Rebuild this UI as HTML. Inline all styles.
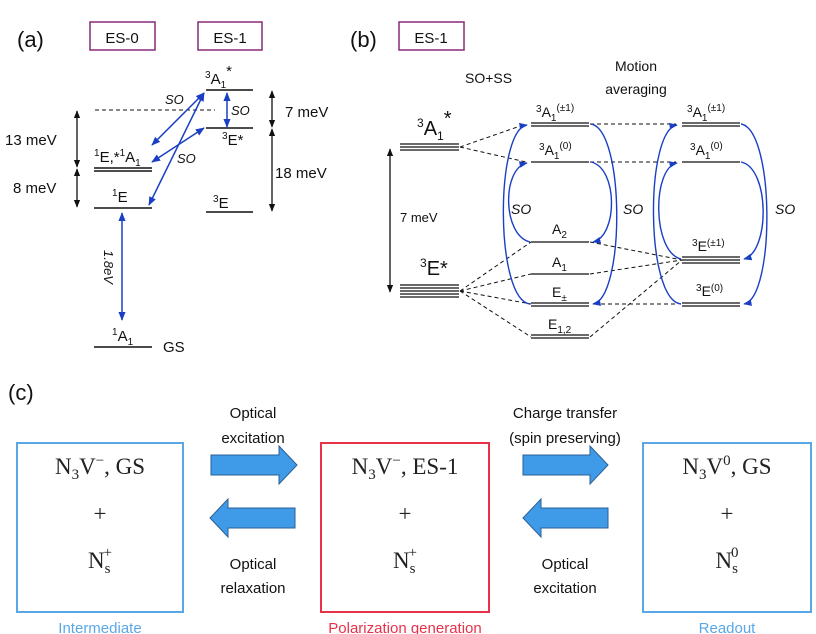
<!DOCTYPE html>
<html><head><meta charset="utf-8"><style>
html,body{margin:0;padding:0;background:#fff}
svg{display:block}
.s{font-family:"Liberation Sans",sans-serif;fill:#111}
.r{font-family:"Liberation Serif",serif;fill:#222}
</style></head><body>
<svg width="816" height="634" viewBox="0 0 816 634" xmlns="http://www.w3.org/2000/svg">
<defs>
<marker id="ka" viewBox="0 0 10 10" refX="9" refY="5" markerWidth="6" markerHeight="6" orient="auto-start-reverse"><path d="M0,1 L10,5 L0,9 z" fill="#111"/></marker>
<marker id="ba" viewBox="0 0 10 10" refX="9" refY="5" markerWidth="6" markerHeight="6" orient="auto-start-reverse"><path d="M0,1 L10,5 L0,9 z" fill="#1a3fc4"/></marker>
</defs>

<!-- Panel (a) -->
<text x="17" y="47" class="s" font-size="22">(a)</text>
<rect x="90" y="22" width="65" height="28" fill="none" stroke="#8a2a7a" stroke-width="1.5"/>
<text x="122" y="43" class="s" font-size="15" text-anchor="middle">ES-0</text>
<rect x="198" y="22" width="64" height="28" fill="none" stroke="#8a2a7a" stroke-width="1.5"/>
<text x="230" y="43" class="s" font-size="15" text-anchor="middle">ES-1</text>

<g stroke="#111" stroke-width="1.5">
<line x1="206" y1="90" x2="253" y2="90"/>
<line x1="206" y1="128" x2="253" y2="128"/>
<line x1="206" y1="212" x2="253" y2="212"/>
<line x1="94" y1="168" x2="152" y2="168"/>
<line x1="94" y1="171" x2="152" y2="171"/>
<line x1="94" y1="208" x2="152" y2="208"/>
<line x1="94" y1="347" x2="152" y2="347"/>
</g>
<line x1="95" y1="110" x2="215" y2="110" stroke="#111" stroke-width="1" stroke-dasharray="4,3"/>
<g stroke="#111" stroke-width="1.3" fill="none">
<line x1="77" y1="111" x2="77" y2="167" marker-start="url(#ka)" marker-end="url(#ka)"/>
<line x1="77" y1="169" x2="77" y2="207" marker-start="url(#ka)" marker-end="url(#ka)"/>
<line x1="272" y1="91" x2="272" y2="127" marker-start="url(#ka)" marker-end="url(#ka)"/>
<line x1="272" y1="129" x2="272" y2="211" marker-start="url(#ka)" marker-end="url(#ka)"/>
</g>
<text x="5" y="145" class="s" font-size="15">13 meV</text>
<text x="13" y="193" class="s" font-size="15">8 meV</text>
<text x="285" y="117" class="s" font-size="15">7 meV</text>
<text x="275" y="178" class="s" font-size="15">18 meV</text>
<g stroke="#1a3fc4" stroke-width="1.5" fill="none">
<line x1="204" y1="93" x2="152" y2="145" marker-start="url(#ba)" marker-end="url(#ba)"/>
<line x1="204" y1="93" x2="149" y2="205" marker-start="url(#ba)" marker-end="url(#ba)"/>
<line x1="204" y1="128" x2="152" y2="162" marker-start="url(#ba)" marker-end="url(#ba)"/>
<line x1="227" y1="93" x2="227" y2="127" marker-start="url(#ba)" marker-end="url(#ba)"/>
<line x1="122" y1="213" x2="122" y2="320" marker-start="url(#ba)" marker-end="url(#ba)"/>
</g>
<text x="165" y="104" class="s" font-size="13" font-style="italic">SO</text>
<text x="231" y="115" class="s" font-size="13" font-style="italic">SO</text>
<text x="177" y="163" class="s" font-size="13" font-style="italic">SO</text>
<text transform="translate(104,250) rotate(90)" class="s" font-size="13" font-style="italic">1.8eV</text>
<text x="205" y="84" class="s" font-size="15"><tspan font-size="10" dy="-6">3</tspan><tspan dy="6">A</tspan><tspan font-size="10" dy="4">1</tspan><tspan dy="-12">*</tspan></text>
<text x="222" y="145" class="s" font-size="15"><tspan font-size="10" dy="-6">3</tspan><tspan dy="6">E*</tspan></text>
<text x="94" y="162" class="s" font-size="15"><tspan font-size="10" dy="-6">1</tspan><tspan dy="6">E,*</tspan><tspan font-size="10" dy="-6">1</tspan><tspan dy="6">A</tspan><tspan font-size="10" dy="4">1</tspan></text>
<text x="112" y="202" class="s" font-size="15"><tspan font-size="10" dy="-6">1</tspan><tspan dy="6">E</tspan></text>
<text x="213" y="208" class="s" font-size="15"><tspan font-size="10" dy="-6">3</tspan><tspan dy="6">E</tspan></text>
<text x="112" y="341" class="s" font-size="15"><tspan font-size="10" dy="-6">1</tspan><tspan dy="6">A</tspan><tspan font-size="10" dy="4">1</tspan></text>
<text x="163" y="352" class="s" font-size="15">GS</text>

<!-- Panel (b) -->
<text x="350" y="47" class="s" font-size="22">(b)</text>
<rect x="399" y="22" width="65" height="28" fill="none" stroke="#8a2a7a" stroke-width="1.5"/>
<text x="431" y="43" class="s" font-size="15" text-anchor="middle">ES-1</text>
<text x="465" y="83" class="s" font-size="14">SO+SS</text>
<text x="636" y="71" class="s" font-size="14" text-anchor="middle">Motion</text>
<text x="636" y="94" class="s" font-size="14" text-anchor="middle">averaging</text>

<g stroke="#111" stroke-width="1.3">
<line x1="400" y1="144" x2="459" y2="144"/><line x1="400" y1="147" x2="459" y2="147"/><line x1="400" y1="150" x2="459" y2="150"/>
<line x1="400" y1="285" x2="459" y2="285"/><line x1="400" y1="288" x2="459" y2="288"/><line x1="400" y1="291" x2="459" y2="291"/><line x1="400" y1="294" x2="459" y2="294"/><line x1="400" y1="297" x2="459" y2="297"/>
<line x1="531" y1="123" x2="589" y2="123"/><line x1="531" y1="126" x2="589" y2="126"/>
<line x1="531" y1="162" x2="589" y2="162"/>
<line x1="531" y1="242" x2="589" y2="242"/>
<line x1="531" y1="274" x2="589" y2="274"/>
<line x1="531" y1="303" x2="589" y2="303"/><line x1="531" y1="306" x2="589" y2="306"/>
<line x1="531" y1="335" x2="589" y2="335"/><line x1="531" y1="338" x2="589" y2="338"/>
<line x1="682" y1="123" x2="740" y2="123"/><line x1="682" y1="126" x2="740" y2="126"/>
<line x1="682" y1="162" x2="740" y2="162"/>
<line x1="682" y1="257" x2="740" y2="257"/><line x1="682" y1="260" x2="740" y2="260"/><line x1="682" y1="263" x2="740" y2="263"/>
<line x1="682" y1="303" x2="740" y2="303"/><line x1="682" y1="306" x2="740" y2="306"/>
</g>
<line x1="390" y1="149" x2="390" y2="292" stroke="#111" stroke-width="1.3" marker-start="url(#ka)" marker-end="url(#ka)"/>
<text x="400" y="222" class="s" font-size="13">7 meV</text>
<g stroke="#111" stroke-width="1" stroke-dasharray="4,3" fill="none">
<line x1="460" y1="147" x2="526" y2="124"/>
<line x1="460" y1="147" x2="526" y2="162"/>
<line x1="460" y1="291" x2="531" y2="242"/>
<line x1="460" y1="291" x2="531" y2="274"/>
<line x1="460" y1="291" x2="531" y2="304"/>
<line x1="460" y1="291" x2="531" y2="337"/>
<line x1="590" y1="124" x2="676" y2="124"/>
<line x1="590" y1="162" x2="676" y2="162"/>
<line x1="590" y1="242" x2="682" y2="260"/>
<line x1="590" y1="274" x2="682" y2="260"/>
<line x1="594" y1="304" x2="678" y2="304"/>
<line x1="590" y1="337" x2="682" y2="260"/>
</g>
<g stroke="#1a3fc4" stroke-width="1.4" fill="none">
<path d="M530,304 C495,300 495,130 527,125" marker-end="url(#ba)"/>
<path d="M530,242 C502,235 502,168 527,163" marker-end="url(#ba)"/>
<path d="M591,124 C625,130 625,298 593,304" marker-end="url(#ba)"/>
<path d="M591,162 C618,168 618,236 593,242" marker-end="url(#ba)"/>
<path d="M681,304 C645,300 645,130 677,125" marker-end="url(#ba)"/>
<path d="M681,259 C652,252 652,168 677,163" marker-end="url(#ba)"/>
<path d="M741,124 C775,130 775,298 744,304" marker-end="url(#ba)"/>
<path d="M741,162 C770,168 770,252 744,259" marker-end="url(#ba)"/>
</g>
<text x="511" y="214" class="s" font-size="14" font-style="italic">SO</text>
<text x="623" y="214" class="s" font-size="14" font-style="italic">SO</text>
<text x="775" y="214" class="s" font-size="14" font-style="italic">SO</text>
<text x="417" y="135" class="s" font-size="20"><tspan font-size="12" dy="-8">3</tspan><tspan dy="8">A</tspan><tspan font-size="12" dy="5">1</tspan><tspan dy="-15">*</tspan></text>
<text x="420" y="275" class="s" font-size="20"><tspan font-size="12" dy="-8">3</tspan><tspan dy="8">E*</tspan></text>
<g class="s" font-size="14">
<text x="536" y="117"><tspan font-size="10" dy="-5">3</tspan><tspan dy="5">A</tspan><tspan font-size="10" dy="4">1</tspan><tspan font-size="10" dy="-10">(±1)</tspan></text>
<text x="539" y="155"><tspan font-size="10" dy="-5">3</tspan><tspan dy="5">A</tspan><tspan font-size="10" dy="4">1</tspan><tspan font-size="10" dy="-10">(0)</tspan></text>
<text x="552" y="234">A<tspan font-size="10" dy="4">2</tspan></text>
<text x="552" y="267">A<tspan font-size="10" dy="4">1</tspan></text>
<text x="552" y="297">E<tspan font-size="10" dy="4">±</tspan></text>
<text x="548" y="329">E<tspan font-size="10" dy="4">1,2</tspan></text>
<text x="687" y="117"><tspan font-size="10" dy="-5">3</tspan><tspan dy="5">A</tspan><tspan font-size="10" dy="4">1</tspan><tspan font-size="10" dy="-10">(±1)</tspan></text>
<text x="690" y="155"><tspan font-size="10" dy="-5">3</tspan><tspan dy="5">A</tspan><tspan font-size="10" dy="4">1</tspan><tspan font-size="10" dy="-10">(0)</tspan></text>
<text x="692" y="251"><tspan font-size="10" dy="-5">3</tspan><tspan dy="5">E</tspan><tspan font-size="10" dy="-5">(±1)</tspan></text>
<text x="696" y="296"><tspan font-size="10" dy="-5">3</tspan><tspan dy="5">E</tspan><tspan font-size="10" dy="-5">(0)</tspan></text>
</g>

<!-- Panel (c) -->
<text x="8" y="400" class="s" font-size="22">(c)</text>
<rect x="17" y="443" width="166" height="169" fill="none" stroke="#5aa7e8" stroke-width="2"/>
<rect x="321" y="443" width="168" height="169" fill="none" stroke="#e8324a" stroke-width="2"/>
<rect x="643" y="443" width="168" height="169" fill="none" stroke="#5aa7e8" stroke-width="2"/>
<g class="r" font-size="23" text-anchor="middle">
<text x="100" y="474">N<tspan font-size="15" dy="5">3</tspan><tspan dy="-5">V</tspan><tspan font-size="15" dy="-9">−</tspan><tspan dy="9">,  GS</tspan></text>
<text x="100" y="521">+</text>
<text x="100" y="568">N<tspan font-size="15" dy="5">s</tspan><tspan font-size="15" dx="-7" dy="-16">+</tspan></text>
<text x="405" y="474">N<tspan font-size="15" dy="5">3</tspan><tspan dy="-5">V</tspan><tspan font-size="15" dy="-9">−</tspan><tspan dy="9">,  ES-1</tspan></text>
<text x="405" y="521">+</text>
<text x="405" y="568">N<tspan font-size="15" dy="5">s</tspan><tspan font-size="15" dx="-7" dy="-16">+</tspan></text>
<text x="727" y="474">N<tspan font-size="15" dy="5">3</tspan><tspan dy="-5">V</tspan><tspan font-size="15" dy="-9">0</tspan><tspan dy="9">,  GS</tspan></text>
<text x="727" y="521">+</text>
<text x="727" y="568">N<tspan font-size="15" dy="5">s</tspan><tspan font-size="15" dx="-7" dy="-16">0</tspan></text>
</g>
<g fill="#3f9be8" stroke="#2a5f95" stroke-width="1">
<path d="M211,455 H279 V446 L297,465 L279,484 V475 H211 Z"/>
<path d="M295,508 H228 V499 L210,518 L228,537 V528 H295 Z"/>
<path d="M523,455 H590 V446 L608,465 L590,484 V475 H523 Z"/>
<path d="M608,508 H541 V499 L523,518 L541,537 V528 H608 Z"/>
</g>
<g class="s" font-size="15" text-anchor="middle">
<text x="253" y="418">Optical</text>
<text x="253" y="443">excitation</text>
<text x="253" y="569">Optical</text>
<text x="253" y="593">relaxation</text>
<text x="565" y="418">Charge transfer</text>
<text x="565" y="443">(spin preserving)</text>
<text x="565" y="569">Optical</text>
<text x="565" y="593">excitation</text>
<text x="100" y="633" fill="#5aa7e8">Intermediate</text>
<text x="405" y="633" fill="#e8324a">Polarization generation</text>
<text x="727" y="633" fill="#5aa7e8">Readout</text>
</g>
</svg>
</body></html>
